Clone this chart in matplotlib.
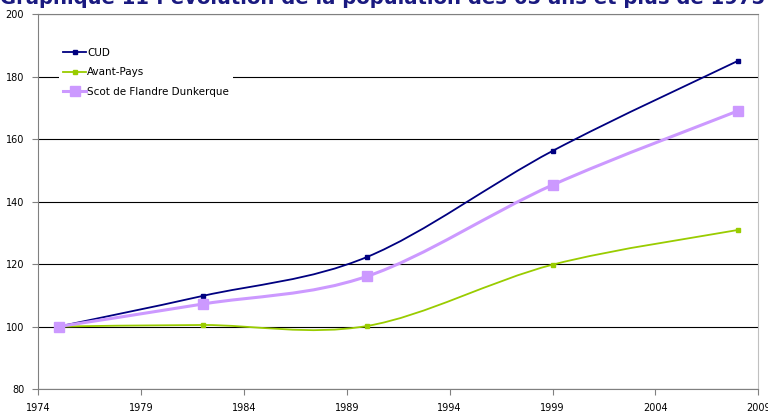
import matplotlib.pyplot as plt
from matplotlib.path import Path
from matplotlib.patches import PathPatch
from matplotlib.lines import Line2D

# Données (indice base 100 en 1975)
annees = [1975, 1982, 1990, 1999, 2008]
cud = [100, 109.8, 122.3, 156.2, 185.0]
avant_pays = [100, 100.5, 100.2, 119.8, 130.9]
scot = [100, 107.2, 116.1, 145.3, 169.0]

ticks_x = [1974, 1979, 1984, 1989, 1994, 1999, 2004, 2009]
ticks_y = [80, 100, 120, 140, 160, 180, 200]


# Courbe lissée façon Excel (Bezier type Catmull-Rom)
def courbe_lissee(ax, xs, ys, couleur, lw):
    pts = list(zip(xs, ys))
    verts = [pts[0]]
    codes = [Path.MOVETO]
    n = len(pts)
    for i in range(n - 1):
        p0 = pts[i - 1] if i > 0 else pts[i]
        p1 = pts[i]
        p2 = pts[i + 1]
        p3 = pts[i + 2] if i + 2 < n else pts[i + 1]
        c1 = (p1[0] + (p2[0] - p0[0]) / 6, p1[1] + (p2[1] - p0[1]) / 6)
        c2 = (p2[0] - (p3[0] - p1[0]) / 6, p2[1] - (p3[1] - p1[1]) / 6)
        verts += [c1, c2, p2]
        codes += [Path.CURVE4] * 3
    ax.add_patch(PathPatch(Path(verts, codes), facecolor='none', edgecolor=couleur,
                           lw=lw, zorder=3, capstyle='round'))


fig = plt.figure(figsize=(7.68, 4.13), dpi=100)
ax = fig.add_axes([0.0495, 0.058, 0.938, 0.908])

series = [
    ("CUD", cud, '#000080', 1.3, 3.5),
    ("Avant-Pays", avant_pays, '#99CC00', 1.3, 3.5),
    ("Scot de Flandre Dunkerque", scot, '#CC99FF', 2.2, 7),
]

handles = []
for nom, vals, couleur, lw, ms in series:
    courbe_lissee(ax, annees, vals, couleur, lw)
    ax.plot(annees, vals, linestyle='none', marker='s', ms=ms, color=couleur, zorder=4)
    handles.append(Line2D([], [], color=couleur, lw=lw, marker='s', ms=ms))

ax.set_xlim(1974, 2009)
ax.set_ylim(80, 200)
ax.set_xticks(ticks_x)
ax.set_yticks(ticks_y)
ax.yaxis.grid(True, color='black', lw=0.8)
ax.set_axisbelow(True)
ax.tick_params(labelsize=7, length=4, color='#808080', pad=6)
for s in ['left', 'bottom', 'top']:
    ax.spines[s].set_color('#808080')
ax.spines['right'].set_color('#c0c0c0')

leg = ax.legend(handles, [s[0] for s in series], loc='upper left',
                bbox_to_anchor=(0.022, 0.935), fontsize=7.5, frameon=True,
                handlelength=2.2, handletextpad=0.1, labelspacing=0.9,
                borderpad=0.4, fancybox=False)
leg.get_frame().set_edgecolor('none')
leg.get_frame().set_facecolor('white')
leg.get_frame().set_alpha(1)
leg.set_zorder(5)

fig.text(0.0, 1.004, "Graphique 11 : évolution de la population des 65 ans et plus de 1975",
         color='#1a1a80', fontsize=14.15, fontweight='bold', va='center', ha='left')

fig.savefig('out.png', dpi=100)
